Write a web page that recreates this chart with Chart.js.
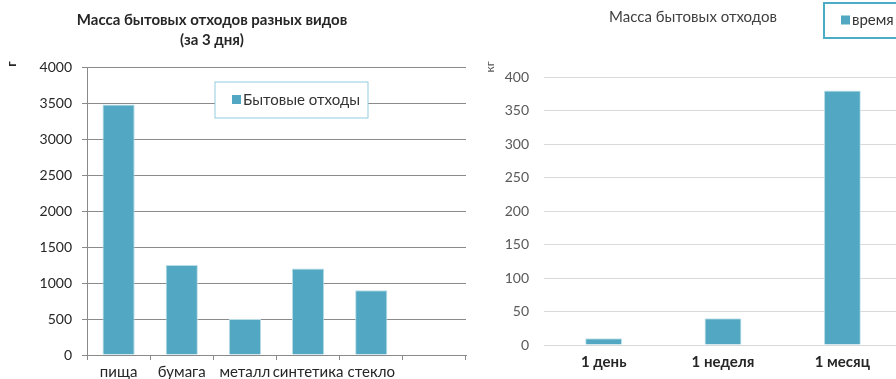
<!DOCTYPE html>
<html>
<head>
<meta charset="utf-8">
<script src="https://cdn.jsdelivr.net/npm/chart.js@4.4.1/dist/chart.umd.min.js"></script>
<style>
  html, body { margin: 0; padding: 0; background: #fff; }
  body { width: 896px; height: 379px; overflow: hidden; position: relative; }
  #wrapLeft { position: absolute; left: 0; top: 0; width: 470px; height: 386px; }
  #wrapRight { position: absolute; left: 470px; top: 0; width: 436px; height: 379px; }
</style>
</head>
<body>
<div id="wrapLeft"><canvas id="leftChart"></canvas></div>
<div id="wrapRight"><canvas id="rightChart"></canvas></div>
<script>
// left chart data (г, за 3 дня)
const wasteTypes = ['пища', 'бумага', 'металл', 'синтетика', 'стекло', ''];
const wasteMass = [3480, 1250, 500, 1200, 900, null];
const wasteTickMax = 4000;
const wasteTickStep = 500;

// right chart data (кг)
const periods = ['1 день', '1 неделя', '1 месяц'];
const periodMass = [10, 40, 380];
const periodTickMax = 400;
const periodTickStep = 50;

const FONT = 'Lato, "Open Sans", sans-serif';
const BAR = '#52a8c2';
const plain = v => String(v);

// legend box drawn inside the plot, like the spreadsheet original
const boxLegend = {
  id: 'boxLegend',
  afterDraw(chart, args, opts) {
    const ctx = chart.ctx;
    const ds = chart.data.datasets[0];
    ctx.save();
    ctx.fillStyle = '#fff';
    ctx.fillRect(opts.x, opts.y, opts.w, opts.h);
    ctx.strokeStyle = opts.border;
    ctx.lineWidth = opts.lineWidth;
    ctx.strokeRect(opts.x, opts.y, opts.w, opts.h);
    const cy = opts.y + opts.h / 2;
    ctx.fillStyle = ds.backgroundColor;
    ctx.fillRect(opts.x + opts.pad, cy - 5, 9, 9);
    ctx.fillStyle = '#333';
    ctx.font = '15px ' + FONT;
    ctx.textBaseline = 'middle';
    ctx.fillText(ds.label, opts.x + opts.pad + 11, cy);
    ctx.restore();
  }
};

// chart title and axis unit, placed where the original had them
const captions = {
  id: 'captions',
  afterDraw(chart, args, opts) {
    const ctx = chart.ctx;
    ctx.save();
    ctx.textAlign = 'center';
    ctx.textBaseline = 'middle';
    for (const c of opts.items) {
      ctx.save();
      ctx.font = c.font;
      ctx.fillStyle = c.color;
      ctx.translate(c.x, c.y);
      if (c.rotate) ctx.rotate(-Math.PI / 2);
      ctx.fillText(c.text, 0, 0);
      ctx.restore();
    }
    ctx.restore();
  }
};

new Chart(document.getElementById('leftChart'), {
  type: 'bar',
  data: {
    labels: wasteTypes,
    datasets: [{
      label: 'Бытовые отходы',
      data: wasteMass,
      backgroundColor: BAR,
      borderColor: '#b9dde8',
      borderWidth: 1,
      categoryPercentage: 1,
      barPercentage: 0.51
    }]
  },
  options: {
    responsive: true,
    maintainAspectRatio: false,
    animation: false,
    layout: { padding: { top: 67, left: 0, right: 4, bottom: 2 } },
    plugins: {
      legend: { display: false },
      tooltip: { enabled: false },
      title: { display: false },
      captions: {
        items: [
          { text: 'Масса бытовых отходов разных видов', x: 212, y: 20, font: 'bold 15px ' + FONT, color: '#262626' },
          { text: '(за 3 дня)', x: 212, y: 40, font: 'bold 15px ' + FONT, color: '#262626' },
          { text: 'г', x: 12, y: 64, font: 'bold 13px ' + FONT, color: '#262626', rotate: true }
        ]
      },
      boxLegend: { x: 215, y: 82, w: 153, h: 36, pad: 17, border: '#93cbdb', lineWidth: 1 }
    },
    scales: {
      x: {
        grid: { drawOnChartArea: false, drawTicks: true, tickLength: 5, color: '#8a8a8a' },
        border: { display: true, color: '#8a8a8a' },
        ticks: { color: '#262626', padding: 3, autoSkip: false, font: { family: FONT, size: 15 }, maxRotation: 0 }
      },
      y: {
        min: 0,
        max: wasteTickMax,
        afterFit(scale) { scale.width = 87; },
        ticks: { stepSize: wasteTickStep, callback: plain, color: '#262626', padding: 10, font: { family: FONT, size: 14 } },
        grid: { color: '#8a8a8a', tickLength: 5 },
        border: { display: true, color: '#8a8a8a' }
      }
    }
  },
  plugins: [boxLegend, captions]
});

new Chart(document.getElementById('rightChart'), {
  type: 'bar',
  data: {
    labels: periods,
    datasets: [{
      label: 'время',
      data: periodMass,
      backgroundColor: BAR,
      borderColor: '#c6e4ec',
      borderWidth: 1,
      categoryPercentage: 1,
      barPercentage: 0.31
    }]
  },
  options: {
    responsive: true,
    maintainAspectRatio: false,
    animation: false,
    layout: { padding: { top: 77, left: 0, right: 4, bottom: 0 } },
    plugins: {
      legend: { display: false },
      tooltip: { enabled: false },
      title: { display: false },
      captions: {
        items: [
          { text: 'Масса бытовых отходов', x: 223, y: 17, font: '15px ' + FONT, color: '#404040' },
          { text: 'кг', x: 20, y: 67, font: '12px ' + FONT, color: '#595959', rotate: true }
        ]
      },
      boxLegend: { x: 354, y: 3, w: 90, h: 35, pad: 17, border: '#4bacc6', lineWidth: 2 }
    },
    scales: {
      x: {
        grid: { display: false, drawTicks: false, tickLength: 0 },
        border: { display: false },
        ticks: { color: '#262626', padding: 8, font: { family: FONT, size: 15, weight: 'bold' }, maxRotation: 0 }
      },
      y: {
        min: 0,
        max: periodTickMax,
        afterFit(scale) { scale.width = 74; },
        ticks: { stepSize: periodTickStep, callback: plain, color: '#595959', padding: 15, font: { family: FONT, size: 14 } },
        grid: { color: '#d9d9d9', lineWidth: 1, drawTicks: false },
        border: { display: false }
      }
    }
  },
  plugins: [boxLegend, captions]
});
</script>
</body>
</html>
